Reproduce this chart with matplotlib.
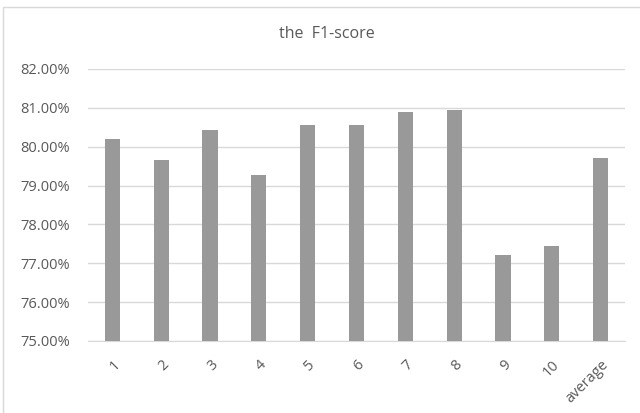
import matplotlib.pyplot as plt
from matplotlib.patches import Rectangle
from matplotlib.ticker import FuncFormatter

plt.rcParams["font.family"] = ["Open Sans", "DejaVu Sans"]

# ---- data ----
categories = ["1", "2", "3", "4", "5", "6", "7", "8", "9", "10", "average"]
f1_scores = [80.21, 79.67, 80.43, 79.26, 80.55, 80.55, 80.89, 80.95, 77.22, 77.44, 79.72]

text_color = "#595959"
grid_color = "#d9d9d9"

fig = plt.figure(figsize=(6.4, 4.13), dpi=100)
# light chart-area border (as in Excel)
fig.patches.append(Rectangle((3 / 640, -0.1), 1.1, 1 - 7 / 413 + 0.1,
                             transform=fig.transFigure, fill=False,
                             edgecolor=grid_color, linewidth=1))

ax = fig.add_axes([88 / 640, 1 - 341 / 413, (625 - 88) / 640, (341 - 69) / 413])
x = range(len(categories))
ax.bar(x, f1_scores, width=0.31, color="#999999", zorder=3)

ax.set_ylim(75, 82)
ax.set_xlim(-0.5, len(categories) - 0.5)
ax.set_yticks(range(75, 83))
ax.yaxis.set_major_formatter(FuncFormatter(lambda v, p: f"{v:.2f}%"))
ax.grid(axis="y", color=grid_color, linewidth=1, zorder=0)

ax.set_xticks(list(x))
ax.set_xticklabels(categories, rotation=45, ha="right", rotation_mode="anchor")
ax.tick_params(axis="both", length=0, labelsize=10.5, labelcolor=text_color)
ax.tick_params(axis="y", pad=13)
ax.tick_params(axis="x", pad=12)

for side in ["top", "right", "left"]:
    ax.spines[side].set_visible(False)
ax.spines["bottom"].set_color(grid_color)

fig.text(327 / 640, 1 - 34 / 413, "the  F1-score", ha="center", va="center",
         fontsize=11.5, color=text_color)

plt.savefig("out.png", dpi=100)
